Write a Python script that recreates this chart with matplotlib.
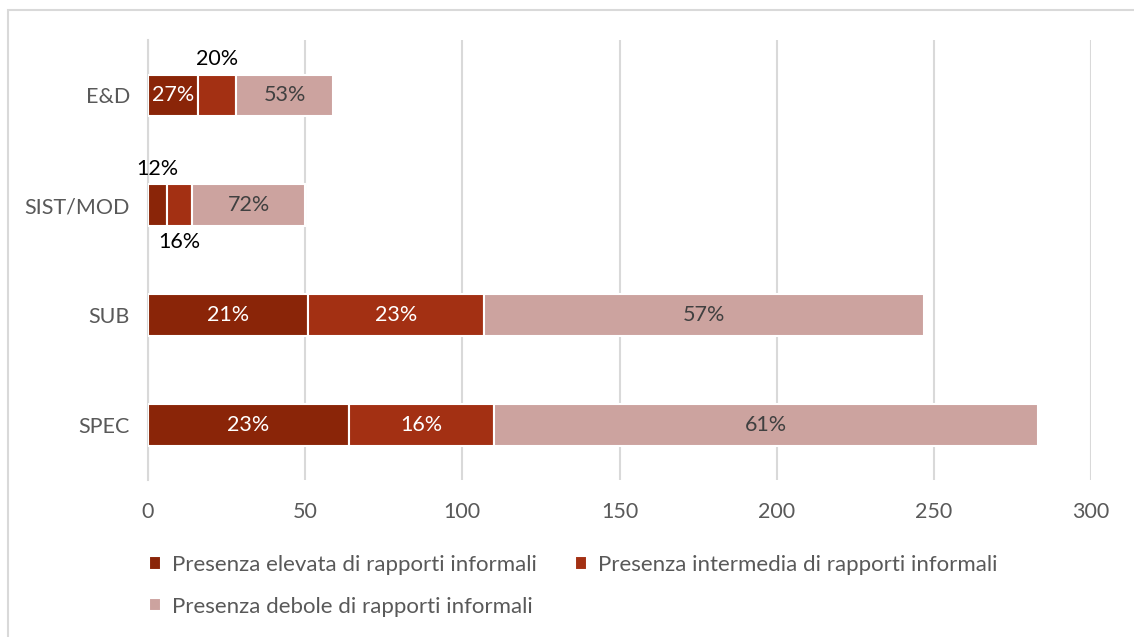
import matplotlib.pyplot as plt
from matplotlib.patches import Rectangle
import numpy as np

plt.rcParams['font.family'] = ['Lato', 'DejaVu Sans']

categorie = ["SPEC", "SUB", "SIST/MOD", "E&D"]
elevata = [64, 51, 6, 16]
intermedia = [46, 56, 8, 12]
debole = [173, 140, 36, 31]

etichette = ["Presenza elevata di rapporti informali",
             "Presenza intermedia di rapporti informali",
             "Presenza debole di rapporti informali"]
colori = ["#8A2508", "#A33013", "#CCA39F"]

fig = plt.figure(figsize=(11.34, 6.37), dpi=100)
ax = fig.add_axes([0.1305, 0.2465, 0.8316, 0.69])

y = np.arange(len(categorie))
serie = [elevata, intermedia, debole]
sinistra = np.zeros(len(categorie))
barre = []
for valori, col, lab in zip(serie, colori, etichette):
    b = ax.barh(y, valori, left=sinistra, height=0.38, color=col,
                edgecolor="white", linewidth=1.5, label=lab, zorder=3)
    barre.append(b)
    sinistra = sinistra + np.array(valori)

totali = sinistra
# percentuali dentro le barre, fuori per i segmenti troppo stretti
esterne = {(2, 0): 0.33, (2, 1): -0.33, (3, 1): 0.33}
fs = 15.5
base = np.zeros(len(categorie))
for s, valori in enumerate(serie):
    for i, v in enumerate(valori):
        pct = f"{round(100 * v / totali[i]):.0f}%"
        xc = base[i] + v / 2
        if (i, s) in esterne:
            ax.text(xc, y[i] + esterne[(i, s)], pct, ha="center", va="center",
                    fontsize=fs, color="black", zorder=4)
        else:
            col = "white" if s < 2 else "#404040"
            ax.text(xc, y[i], pct, ha="center", va="center",
                    fontsize=fs, color=col, zorder=4)
    base = base + np.array(valori)

ax.set_xlim(0, 300)
ax.set_ylim(-0.5, 3.5)
ax.set_xticks(np.arange(0, 301, 50))
ax.set_yticks(y)
ax.set_yticklabels(categorie)
ax.grid(axis="x", color="#D9D9D9", linewidth=1.5, zorder=0)
for sp in ["top", "right", "bottom"]:
    ax.spines[sp].set_visible(False)
ax.spines["left"].set_color("#D9D9D9")
ax.spines["left"].set_linewidth(1.5)
ax.tick_params(axis="both", length=0, labelsize=fs, labelcolor="#595959")
ax.tick_params(axis="x", pad=16)
ax.tick_params(axis="y", pad=13)

# ordine: riga 1 elevata/intermedia, riga 2 debole
ordine = [barre[0], barre[2], barre[1]]
fig.legend(handles=ordine, loc="upper left", bbox_to_anchor=(0.1236, 0.143),
           ncol=2, frameon=False, fontsize=16, labelcolor="#595959",
           handlelength=0.55, handleheight=0.55, handletextpad=0.5,
           columnspacing=1.7, labelspacing=0.98, borderaxespad=0)

fig.patches.append(Rectangle((8 / 1134, -0.1), 1.2, 1 - 10 / 637 + 0.1,
                             transform=fig.transFigure, fill=False,
                             edgecolor="#D9D9D9", linewidth=1.5))

fig.savefig("out.png", dpi=100)
